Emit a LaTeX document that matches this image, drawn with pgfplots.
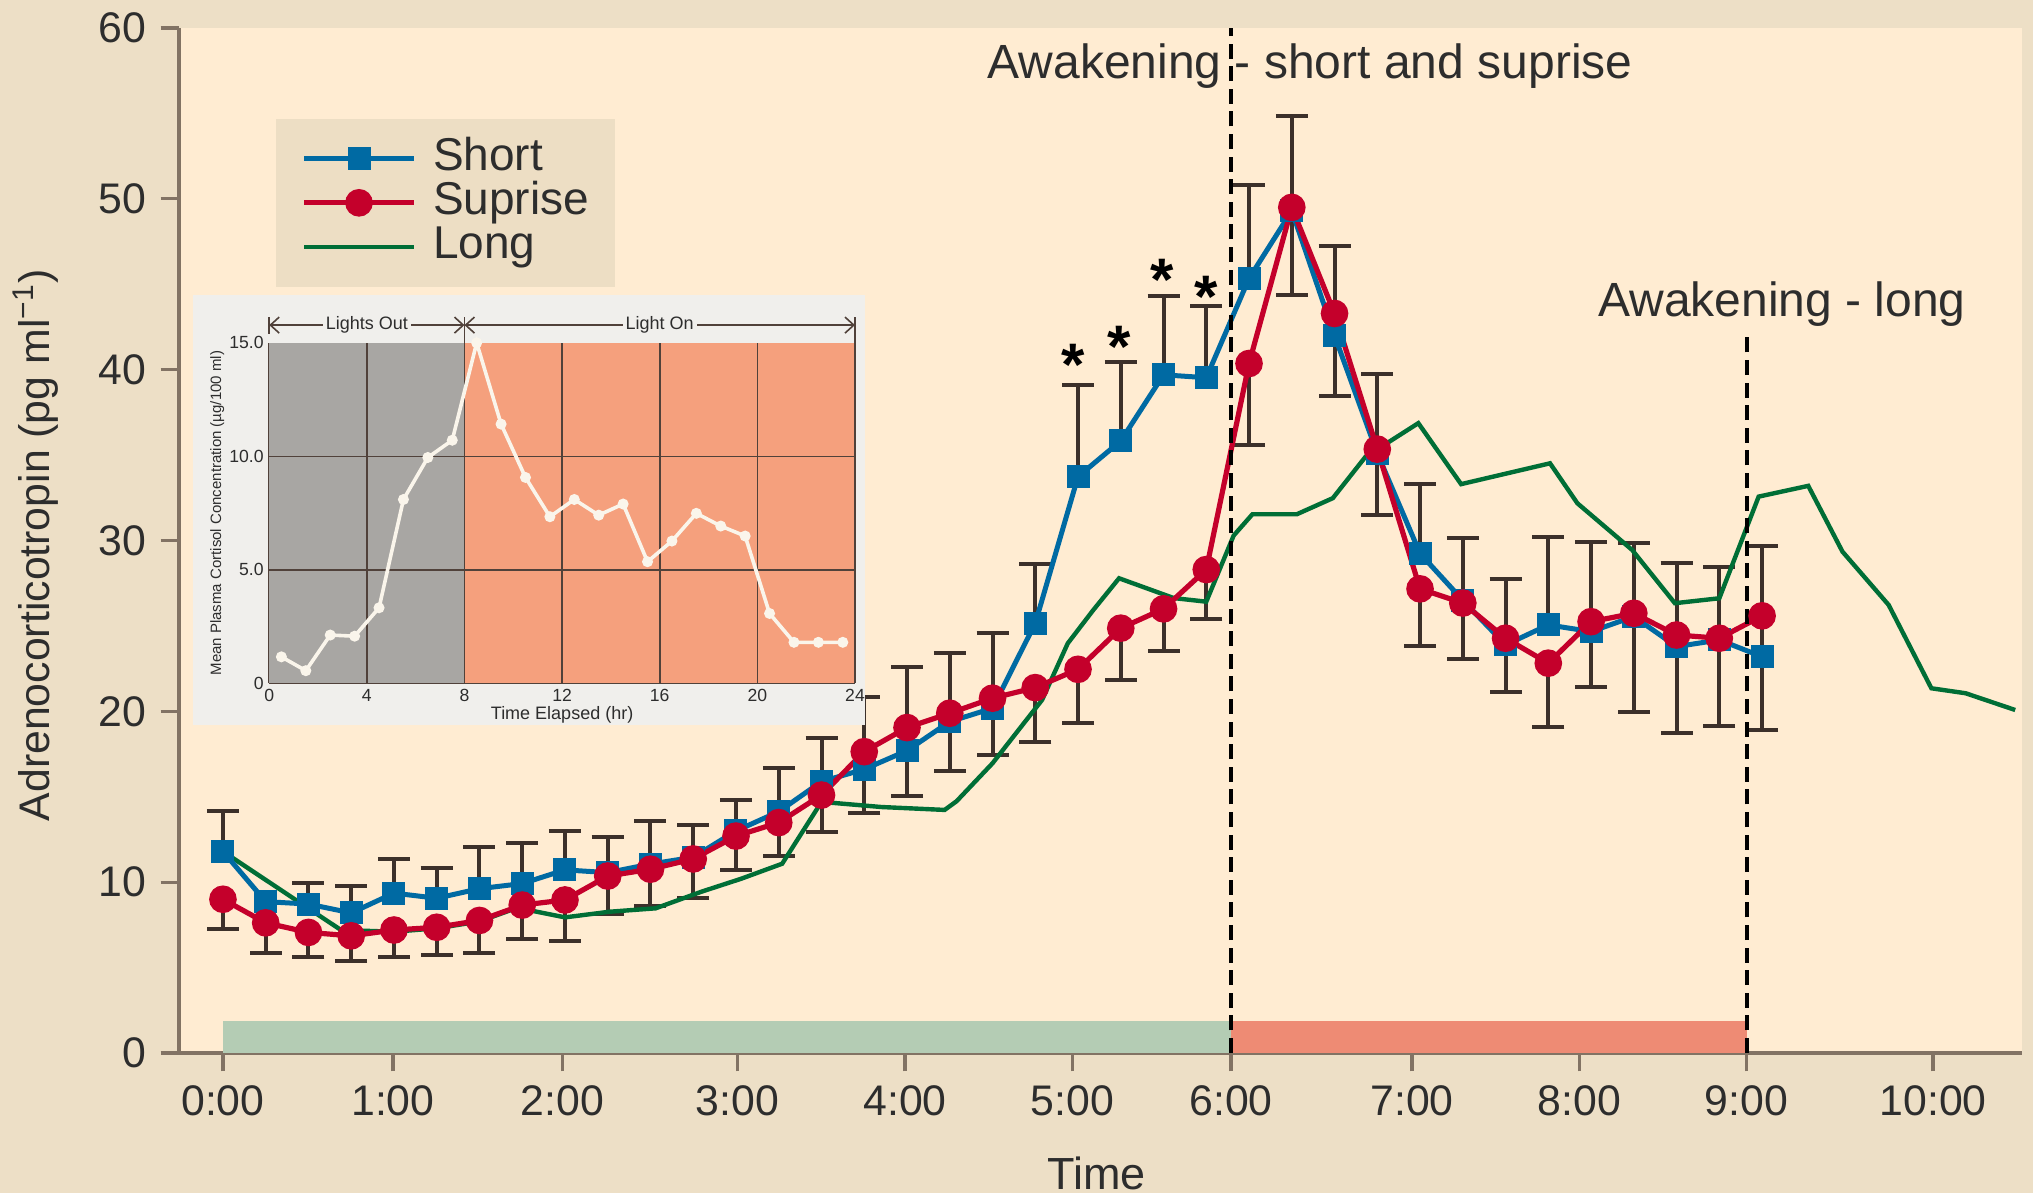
\documentclass[border=0pt]{standalone}
\usepackage{fontspec}
\setmainfont{Liberation Sans}
\usepackage{pgfplots}
\usepackage{pgfplotstable}
\pgfplotsset{compat=1.18}
\usetikzlibrary{arrows.meta}

\definecolor{outertan}{RGB}{237,223,198}
\definecolor{plotcream}{RGB}{255,236,210}
\definecolor{legendfill}{RGB}{237,222,196}
\definecolor{shortblue}{RGB}{0,106,163}
\definecolor{suprred}{RGB}{196,0,43}
\definecolor{longgreen}{RGB}{0,110,54}
\definecolor{errcol}{RGB}{60,48,42}
\definecolor{axiscol}{RGB}{130,115,100}
\definecolor{bandgreen}{RGB}{180,204,180}
\definecolor{bandred}{RGB}{238,139,116}
\definecolor{insetbg}{RGB}{240,239,236}
\definecolor{insetgray}{RGB}{168,166,163}
\definecolor{insetorange}{RGB}{245,160,125}
\definecolor{insetgrid}{RGB}{80,65,58}
\definecolor{insetline}{RGB}{250,245,235}
\definecolor{textcol}{RGB}{45,45,45}

% Short (blue) and Suprise (red): mean, upper error (Short), lower error (Suprise)
\pgfplotstableread{
x short shorterr sup superr
0.00 11.80 2.36 9.00 1.74
0.25 8.86 0.00 7.62 1.76
0.50 8.72 1.24 7.06 1.46
0.75 8.20 1.56 6.86 1.50
1.00 9.36 2.00 7.20 1.60
1.25 9.06 1.76 7.36 1.64
1.50 9.62 2.44 7.76 1.90
1.75 9.92 2.40 8.66 2.00
2.00 10.72 2.28 8.96 2.40
2.25 10.56 2.06 10.36 2.20
2.50 11.06 2.54 10.76 2.14
2.75 11.46 1.90 11.36 2.30
3.00 13.00 1.80 12.70 1.99
3.25 14.13 2.54 13.49 1.96
3.50 15.89 2.53 15.10 2.14
3.75 16.61 4.21 17.64 3.61
4.00 17.70 4.92 19.05 4.00
4.25 19.40 4.00 19.89 3.36
4.50 20.18 4.39 20.77 3.32
4.75 25.16 3.49 21.39 3.16
5.00 33.74 5.39 22.46 3.12
5.25 35.83 4.60 24.87 3.03
5.50 39.70 4.64 26.00 2.45
5.75 39.53 4.18 28.30 2.91
6.00 45.34 5.48 40.36 4.74
6.25 49.30 5.55 49.50 5.10
6.50 42.00 5.22 43.29 4.81
6.75 35.10 4.66 35.35 3.85
7.00 29.24 4.08 27.17 3.32
7.25 26.50 3.62 26.34 3.29
7.50 23.89 3.86 24.28 3.13
7.75 25.06 5.13 22.82 3.72
8.00 24.67 5.27 25.25 3.80
8.25 25.55 4.33 25.74 5.76
8.50 23.79 4.92 24.47 5.75
8.75 24.18 4.25 24.28 5.13
9.00 23.20 6.50 25.59 6.68
}\acthdata

% Long (green)
\pgfplotstableread{
x y
0.00 11.80
0.69 7.20
1.00 7.10
1.25 7.30
1.50 7.70
1.72 8.50
2.00 7.94
2.26 8.27
2.53 8.47
2.80 9.45
3.03 10.20
3.27 11.08
3.50 14.70
3.85 14.40
4.22 14.23
4.29 14.74
4.50 16.96
4.79 20.67
4.94 23.98
5.09 25.94
5.24 27.79
5.56 26.63
5.75 26.42
5.91 30.29
6.02 31.54
6.28 31.54
6.49 32.48
6.68 34.89
6.99 36.87
7.24 33.30
7.76 34.52
7.92 32.18
8.24 29.45
8.49 26.33
8.75 26.62
8.98 32.57
9.27 33.20
9.47 29.35
9.74 26.23
9.99 21.35
10.19 21.06
10.48 20.08
}\longdata

% Inset: cortisol
\pgfplotstableread{
t c
0.5 1.17
1.5 0.56
2.5 2.13
3.5 2.08
4.5 3.33
5.5 8.10
6.5 9.95
7.5 10.71
8.5 15.00
9.5 11.42
10.5 9.07
11.5 7.34
12.5 8.10
13.5 7.41
14.5 7.90
15.5 5.36
16.5 6.27
17.5 7.49
18.5 6.93
19.5 6.49
20.5 3.08
21.5 1.81
22.5 1.81
23.5 1.81
}\cortisol

\begin{document}
\begin{tikzpicture}
\fill[outertan] (0,0) rectangle (508.25pt,298.25pt);

\begin{axis}[
  at={(44.75pt,35pt)}, anchor=south west,
  scale only axis, width=460.75pt, height=256.25pt,
  xmin=-0.257, xmax=10.52, ymin=0, ymax=60,
  clip=false,
  axis lines=left,
  axis line style={-, draw=axiscol, line width=1.1pt},
  axis background/.style={fill=plotcream},
  xtick={0,0.994,1.984,3.008,3.988,4.967,5.895,6.953,7.932,8.909,10.0},
  xticklabels={0:00,1:00,2:00,3:00,4:00,5:00,6:00,7:00,8:00,9:00,10:00},
  ytick={0,10,20,30,40,50,60},
  /pgf/number format/assume math mode=true,
  tick align=outside, major tick length=4.6pt,
  tick style={draw=axiscol, line width=0.8pt},
  ticklabel style={font=\fontsize{10.7}{12}\selectfont, text=textcol},
  xlabel={Time},
  ylabel={Adrenocorticotropin (pg ml\textsuperscript{−1})},
  xlabel style={at={(axis description cs:0.498,-0.117)}, anchor=center, font=\fontsize{11.25}{13}\selectfont, text=textcol},
  ylabel style={at={(axis description cs:-0.0776,0.4956)}, anchor=center, font=\fontsize{10.7}{13}\selectfont, text=textcol},
  legend style={at={(0.0521,0.9122)}, anchor=north west, fill=legendfill, draw=none,
    font=\fontsize{11.5}{12}\selectfont, text=textcol,
    inner xsep=6.5pt, inner ysep=4.5pt, row sep=0pt, column sep=4.2pt,
    nodes={inner sep=0pt, text height=8.5pt, text depth=2.5pt, anchor=west}},
  legend cell align=left,
  legend image code/.code={\draw[mark repeat=2,mark phase=2,#1] plot coordinates {(0pt,0pt) (13.65pt,0pt) (27.3pt,0pt)};},
]
% light bands
\addplot[forget plot, fill=bandgreen, draw=none] coordinates {(0,0) (0,1.85) (5.895,1.85) (5.895,0)} -- cycle;
\addplot[forget plot, fill=bandred, draw=none] coordinates {(5.895,0) (5.895,1.85) (8.909,1.85) (8.909,0)} -- cycle;

% error bars
\addplot[forget plot, only marks, mark=none, skip coords between index={1}{2},
  error bars/.cd, y dir=plus, y explicit,
  error bar style={draw=errcol, line width=1pt},
  error mark options={draw=errcol, line width=1pt, rotate=90, mark size=4pt}]
  table[x=x, y=short, y error=shorterr] {\acthdata};
\addplot[forget plot, only marks, mark=none,
  error bars/.cd, y dir=minus, y explicit,
  error bar style={draw=errcol, line width=1pt},
  error mark options={draw=errcol, line width=1pt, rotate=90, mark size=4pt}]
  table[x=x, y=sup, y error=superr] {\acthdata};

% series
\addplot[forget plot, longgreen, line width=1.1pt, no markers] table[x=x, y=y] {\longdata};
\addplot[forget plot, shortblue, line width=1.25pt, mark=square*, mark size=2.25pt, mark options={fill=shortblue, draw=shortblue}] table[x=x, y=short] {\acthdata};
\addplot[forget plot, suprred, line width=1.3pt, mark=*, mark size=2.8pt, mark options={fill=suprred, draw=suprred}] table[x=x, y=sup] {\acthdata};

% awakening lines
\addplot[forget plot, black, line width=1pt, dash pattern=on 3.75pt off 1.9pt] coordinates {(5.895,0) (5.895,60)};
\addplot[forget plot, black, line width=1pt, dash pattern=on 3.75pt off 1.9pt] coordinates {(8.909,0) (8.909,42.2)};

% legend
\addlegendimage{shortblue, line width=1.25pt, mark=square*, mark size=2.25pt, mark options={fill=shortblue, draw=shortblue}}
\addlegendentry{Short}
\addlegendimage{suprred, line width=1.3pt, mark=*, mark size=2.8pt, mark options={fill=suprred, draw=suprred}}
\addlegendentry{Suprise}
\addlegendimage{longgreen, line width=1.1pt, no markers}
\addlegendentry{Long}

% annotations
\node[font=\fontsize{12}{14}\selectfont, text=textcol, inner sep=0pt] at (axis cs:6.357,57.75) {Awakening - short and suprise};
\node[font=\fontsize{12}{14}\selectfont, text=textcol, inner sep=0pt] at (axis cs:9.117,43.85) {Awakening - long};
\node[font=\fontsize{15}{16}\selectfont\bfseries, text=black, inner sep=0pt] at (axis cs:4.97,40.3) {*};
\node[font=\fontsize{15}{16}\selectfont\bfseries, text=black, inner sep=0pt] at (axis cs:5.24,41.35) {*};
\node[font=\fontsize{15}{16}\selectfont\bfseries, text=black, inner sep=0pt] at (axis cs:5.49,45.25) {*};
\node[font=\fontsize{15}{16}\selectfont\bfseries, text=black, inner sep=0pt] at (axis cs:5.75,44.25) {*};
\end{axis}

% inset background
\fill[insetbg] (48.35pt,117pt) rectangle (216.3pt,224.5pt);

\begin{axis}[
  at={(67.3pt,127.4pt)}, anchor=south west,
  scale only axis, width=146.45pt, height=85.15pt,
  xmin=0, xmax=24, ymin=0, ymax=15,
  clip=false,
  axis lines=left,
  axis line style={-, draw=insetgrid, line width=0.5pt},
  xtick={0,4,8,12,16,20,24},
  ytick={0,5,10,15},
  yticklabels={0,5.0,10.0,15.0},
  /pgf/number format/assume math mode=true,
  major tick length=0pt,
  ticklabel style={font=\fontsize{4.4}{5}\selectfont, text=textcol, inner sep=1.2pt},
  xlabel={Time Elapsed (hr)},
  ylabel={Mean Plasma Cortisol Concentration (µg/100 ml)},
  xlabel style={at={(axis description cs:0.5,-0.0916)}, anchor=center, font=\fontsize{4.5}{5}\selectfont, text=textcol},
  ylabel style={at={(axis description cs:-0.0888,0.5)}, anchor=center, font=\fontsize{3.75}{4}\selectfont, text=textcol},
]
\addplot[fill=insetgray, draw=none] coordinates {(0,0) (0,15) (8,15) (8,0)} -- cycle;
\addplot[fill=insetorange, draw=none] coordinates {(8,0) (8,15) (24,15) (24,0)} -- cycle;
\addplot[insetgrid, line width=0.4pt] coordinates {(4,0) (4,15)};
\addplot[insetgrid, line width=0.4pt] coordinates {(8,0) (8,15)};
\addplot[insetgrid, line width=0.4pt] coordinates {(12,0) (12,15)};
\addplot[insetgrid, line width=0.4pt] coordinates {(16,0) (16,15)};
\addplot[insetgrid, line width=0.4pt] coordinates {(20,0) (20,15)};
\addplot[insetgrid, line width=0.4pt] coordinates {(24,0) (24,15)};
\addplot[insetgrid, line width=0.4pt] coordinates {(0,5) (24,5)};
\addplot[insetgrid, line width=0.4pt] coordinates {(0,10) (24,10)};
\addplot[insetline, line width=0.9pt, mark=*, mark size=0.9pt, mark options={fill=insetline, draw=insetline}] table[x=t, y=c] {\cortisol};

\draw[insetgrid, line width=0.4pt] (axis cs:0,15.4) -- (axis cs:0,16.15);
\draw[insetgrid, line width=0.4pt] (axis cs:8,15) -- (axis cs:8,16.15);
\draw[insetgrid, line width=0.4pt] (axis cs:24,15) -- (axis cs:24,16.15);
\draw[insetgrid, line width=0.4pt, {Straight Barb[length=2.2pt,width=4pt]}-{Straight Barb[length=2.2pt,width=4pt]}] (axis cs:0,15.78) -- (axis cs:8,15.78)
  node[midway, fill=insetbg, inner sep=0.8pt, font=\fontsize{4.5}{5}\selectfont, text=textcol] {Lights Out};
\draw[insetgrid, line width=0.4pt, {Straight Barb[length=2.2pt,width=4pt]}-{Straight Barb[length=2.2pt,width=4pt]}] (axis cs:8,15.78) -- (axis cs:24,15.78)
  node[midway, fill=insetbg, inner sep=0.8pt, font=\fontsize{4.5}{5}\selectfont, text=textcol] {Light On};
\end{axis}

\pgfresetboundingbox
\useasboundingbox (0,0) rectangle (508.25pt,298.25pt);
\end{tikzpicture}
\end{document}
